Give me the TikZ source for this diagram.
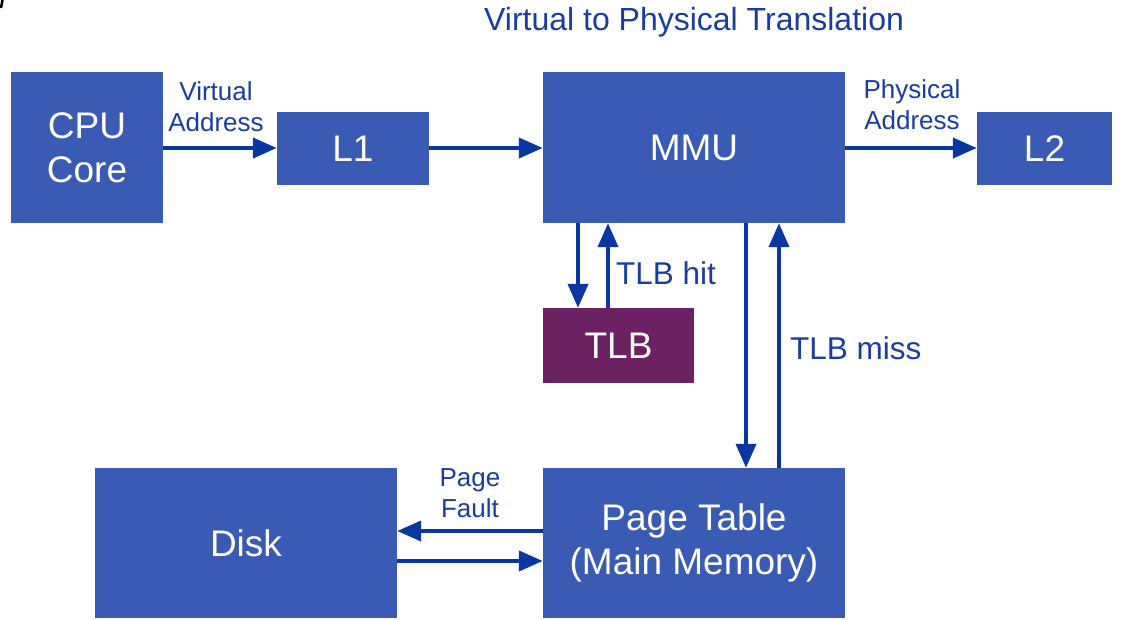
\documentclass[tikz,border=0pt]{standalone}
\usepackage{fontspec}
\setmainfont{Liberation Sans}
\usetikzlibrary{arrows.meta}

\definecolor{boxblue}{HTML}{3A5BB4}
\definecolor{tlbpurple}{HTML}{6B2162}
\definecolor{arrowblue}{HTML}{0A36A0}
\definecolor{labelblue}{HTML}{1A3CA0}

\tikzset{
  block/.style={rectangle, fill=boxblue, text=white, inner sep=0pt, align=center,
                font=\fontsize{37}{44}\selectfont},
  arr/.style={draw=arrowblue, line width=4pt, -{Triangle[length=24pt,width=20pt]}},
  lbl/.style={text=labelblue, inner sep=0pt, align=center},
  small/.style={font=\fontsize{26}{31}\selectfont},
  mid/.style={font=\fontsize{31.5}{36}\selectfont},
}

\begin{document}
\begin{tikzpicture}[x=1pt, y=-1pt]
  \useasboundingbox (0,0) rectangle (1126,619);

  % clipped stroke in the corner
  \draw[black, line width=2.5pt] (2.5,0) -- (1,8);

  % title
  \node[lbl, font=\fontsize{32}{36}\selectfont] (title) at (694,22) {Virtual to Physical Translation};

  % blocks
  \node[block, minimum width=152pt, minimum height=151pt] (cpu) at (87,147.5) {CPU\\Core};
  \node[block, minimum width=152pt, minimum height=73pt]  (l1)  at (353,148.5) {L1};
  \node[block, minimum width=302pt, minimum height=151pt] (mmu) at (694,147.5) {MMU};
  \node[block, minimum width=135pt, minimum height=73pt]  (l2)  at (1044.5,148.5) {L2};
  \node[block, fill=tlbpurple, minimum width=151pt, minimum height=75pt] (tlb) at (618.5,345.5) {TLB};
  \node[block, minimum width=302pt, minimum height=150pt] (pt)  at (694,543) {Page Table\\(Main Memory)};
  \node[block, minimum width=302pt, minimum height=150pt] (disk) at (246,543) {Disk};

  % horizontal connectors along the top row
  \draw[arr] (cpu.east |- 0,148) -- (l1.west |- 0,148);
  \draw[arr] (l1.east |- 0,148) -- (mmu.west |- 0,148);
  \draw[arr] (mmu.east |- 0,148) -- (l2.west |- 0,148);

  % MMU <-> TLB
  \draw[arr] (mmu.south -| 578,0) -- (tlb.north -| 578,0);
  \draw[arr] (tlb.north -| 608,0) -- (mmu.south -| 608,0);

  % MMU <-> page table
  \draw[arr] (mmu.south -| 746,0) -- (pt.north -| 746,0);
  \draw[arr] (pt.north -| 779,0) -- (mmu.south -| 779,0);

  % page table <-> disk
  \draw[arr] (pt.west |- 0,531) -- (disk.east |- 0,531);
  \draw[arr] (disk.east |- 0,561) -- (pt.west |- 0,561);

  % connector labels
  \node[lbl, small] (va) at (216,107) {Virtual\\Address};
  \node[lbl, small] (pa) at (912,105) {Physical\\Address};
  \node[lbl, mid, anchor=west] (hit) at (616,273) {TLB hit};
  \node[lbl, mid, anchor=west] (miss) at (790,348) {TLB miss};
  \node[lbl, small] (pf) at (470,493) {Page\\Fault};
\end{tikzpicture}
\end{document}
